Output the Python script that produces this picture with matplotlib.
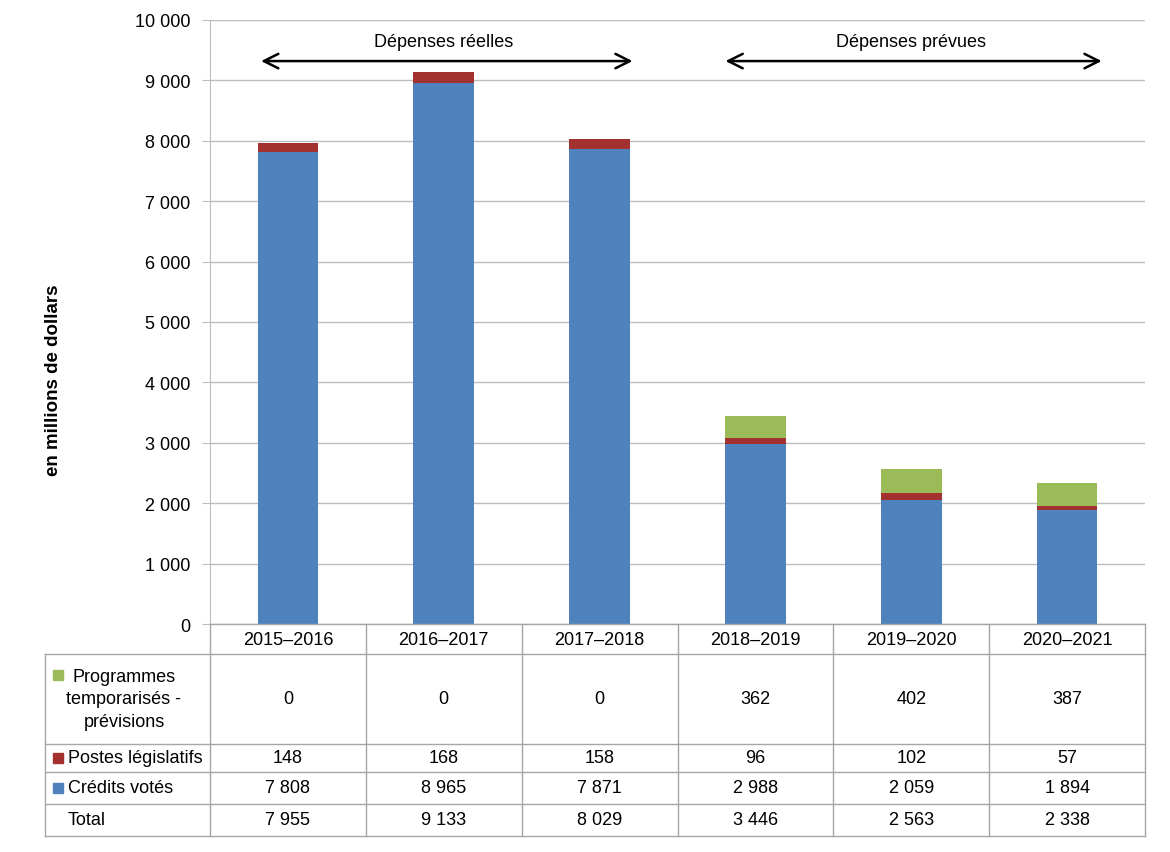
import matplotlib.pyplot as plt
from matplotlib.patches import Rectangle

plt.rcParams["font.family"] = ["Liberation Sans", "DejaVu Sans"]

years = ["2015–2016", "2016–2017", "2017–2018", "2018–2019", "2019–2020", "2020–2021"]
credits_votes = [7808, 8965, 7871, 2988, 2059, 1894]
postes_legislatifs = [148, 168, 158, 96, 102, 57]
programmes_temp = [0, 0, 0, 362, 402, 387]
totals = [7955, 9133, 8029, 3446, 2563, 2338]

c_blue = "#4F81BD"
c_red = "#A3312F"
c_green = "#9BBB59"
c_grid = "#BDBDBD"
fs = 13


def fmt(v):
    return f"{v:,}".replace(",", " ")


W, H = 1170, 853
fig = plt.figure(figsize=(W / 100, H / 100), dpi=100)

# main chart area (pixels: x 210..1145, y 21..625)
ax = fig.add_axes([210 / W, 1 - 625 / H, (1145 - 210) / W, (625 - 21) / H])
x = list(range(len(years)))
bw = 0.39
ax.bar(x, credits_votes, bw, color=c_blue, zorder=3)
ax.bar(x, postes_legislatifs, bw, bottom=credits_votes, color=c_red, zorder=3)
bottom2 = [a + b for a, b in zip(credits_votes, postes_legislatifs)]
ax.bar(x, programmes_temp, bw, bottom=bottom2, color=c_green, zorder=3)

ax.set_xlim(-0.5, 5.5)
ax.set_ylim(0, 10000)
ax.set_yticks(range(0, 10001, 1000))
ax.set_yticklabels([fmt(v) for v in range(0, 10001, 1000)], fontsize=fs)
ax.set_xticks([])
ax.yaxis.grid(True, color=c_grid, linewidth=1, zorder=0)
for s in ["top", "right", "bottom"]:
    ax.spines[s].set_visible(False)
ax.spines["left"].set_color(c_grid)
ax.tick_params(axis="y", length=6, color=c_grid, pad=8)
ax.set_ylabel("en millions de dollars", fontsize=13.5, fontweight="bold")
ax.yaxis.set_label_coords(-0.158, 0.405)

# period arrows
arrow = dict(arrowstyle="<->", color="black", lw=1.8, mutation_scale=26)
ax.annotate("", xy=(-0.19, 9320), xytext=(2.23, 9320), arrowprops=arrow)
ax.annotate("", xy=(2.79, 9320), xytext=(5.24, 9320), arrowprops=arrow)
ax.text(1.0, 9650, "Dépenses réelles", ha="center", va="center", fontsize=fs)
ax.text(4.0, 9650, "Dépenses prévues", ha="center", va="center", fontsize=fs)

# data table below (pixels: x 45..1145, y 625..837)
colw = (1145 - 210) / 6
left = -0.5 - (210 - 45) / colw
axt = fig.add_axes([45 / W, 1 - 837 / H, (1145 - 45) / W, (837 - 625) / H])
axt.set_xlim(left, 5.5)
axt.set_ylim(837, 625)
axt.axis("off")

rows_y = [625, 655, 745, 773, 805, 837]
lc = "#A6A6A6"
line = dict(color=lc, lw=1, clip_on=False)
# header row verticals
for i in range(7):
    axt.plot([i - 0.5, i - 0.5], [625, 655], **line)
axt.plot([-0.5, 5.5], [625, 625], **line)
for y in rows_y[1:]:
    axt.plot([left, 5.5], [y, y], **line)
for xv in [left] + [i - 0.5 for i in range(7)]:
    axt.plot([xv, xv], [655, 837], **line)

for i, yr in enumerate(years):
    axt.text(i, 641, yr, ha="center", va="center", fontsize=fs)

row_data = [programmes_temp, postes_legislatifs, credits_votes, totals]
row_labels = ["Programmes\ntemporarisés -\nprévisions", "Postes législatifs", "Crédits votés", "Total"]
row_colors = [c_green, c_red, c_blue, None]
px = 1 / colw
for r, (vals, lab, col) in enumerate(zip(row_data, row_labels, row_colors)):
    yc = (rows_y[r + 1] + rows_y[r + 2]) / 2
    for i, v in enumerate(vals):
        axt.text(i, yc, fmt(v), ha="center", va="center", fontsize=fs)
    if col is not None:
        sq_y = yc - 5 if r > 0 else yc - 29
        axt.add_patch(Rectangle((left + 8 * px, sq_y), 10 * px, 10, color=col))
    if r == 0:
        axt.text(left + 79 * px, yc, lab, ha="center", va="center", fontsize=fs,
                 multialignment="center", linespacing=1.4)
    else:
        axt.text(left + 23 * px, yc, lab, ha="left", va="center", fontsize=fs)

fig.savefig("out.png", dpi=100)
